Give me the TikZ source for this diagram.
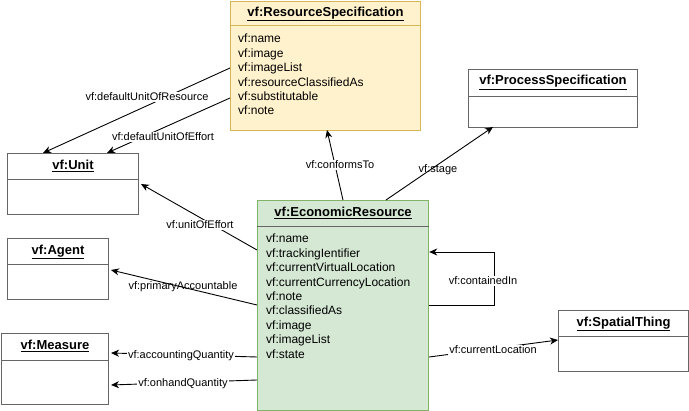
\documentclass[tikz,border=0pt]{standalone}
\usepackage{fontspec}
\setmainfont{Liberation Sans}
\usetikzlibrary{arrows.meta,calc}
\definecolor{rsfill}{HTML}{FFF2CC}
\definecolor{rsline}{HTML}{D6B656}
\definecolor{erfill}{HTML}{D5E8D4}
\definecolor{erline}{HTML}{82B366}
\definecolor{boxline}{HTML}{666666}
\begin{document}
\begin{tikzpicture}[x=1pt,y=-1pt,
  box/.style={draw=boxline, line width=1pt, fill=white, anchor=north west, inner sep=0pt},
  ttl/.style={font=\fontsize{13}{15}\selectfont\bfseries, anchor=base, inner sep=0pt},
  attr/.style={font=\fontsize{12}{14.4}\selectfont, anchor=base west, inner sep=0pt},
  lab/.style={font=\fontsize{11}{13}\selectfont, fill=white, inner sep=1pt},
  labnf/.style={font=\fontsize{11}{13}\selectfont, inner sep=1pt},
  con/.style={draw=black, line width=0.9pt, -{Stealth[length=8pt,width=7pt,inset=2.5pt]}},
]
\useasboundingbox (0,0) rectangle (689,411);

% ResourceSpecification
\node[box, fill=rsfill, draw=rsline, minimum width=190pt, minimum height=129pt] (rs) at (230,1) {};
\draw[draw=rsline, line width=1pt] ($(rs.north west)+(0,25)$) -- ($(rs.north east)+(0,25)$);
\node[ttl] at ($(rs.north)+(0,15.5)$) {\underline{vf:ResourceSpecification}};
\foreach \t [count=\i from 0] in {vf:name,vf:image,vf:imageList,vf:resourceClassifiedAs,vf:substitutable,vf:note}
  \node[attr] at ($(rs.north west)+(8,{42+14.4*\i})$) {\t};

% EconomicResource
\node[box, fill=erfill, draw=erline, line width=1.2pt, minimum width=171pt, minimum height=210pt] (er) at (257,200) {};
\draw[draw=boxline, line width=1pt] ($(er.north west)+(0,27)$) -- ($(er.north east)+(0,27)$);
\node[ttl] at ($(er.north)+(0,16.5)$) {\underline{vf:EconomicResource}};
\foreach \t [count=\i from 0] in {vf:name,vf:trackingIentifier,vf:currentVirtualLocation,vf:currentCurrencyLocation,vf:note,vf:classifiedAs,vf:image,vf:imageList,vf:state}
  \node[attr] at ($(er.north west)+(9,{43+14.4*\i})$) {\t};

% Unit
\node[box, minimum width=131pt, minimum height=61pt] (unit) at (7,153) {};
\draw[draw=boxline, line width=1pt] ($(unit.north west)+(0,27)$) -- ($(unit.north east)+(0,27)$);
\node[ttl] at ($(unit.north)+(0,16.5)$) {\underline{vf:Unit}};

% Agent
\node[box, minimum width=101pt, minimum height=61pt] (agent) at (7,238) {};
\draw[draw=boxline, line width=1pt] ($(agent.north west)+(0,27)$) -- ($(agent.north east)+(0,27)$);
\node[ttl] at ($(agent.north)+(0,16.5)$) {\underline{vf:Agent}};

% Measure
\node[box, minimum width=107pt, minimum height=71pt] (measure) at (1,333) {};
\draw[draw=boxline, line width=1pt] ($(measure.north west)+(0,28)$) -- ($(measure.north east)+(0,28)$);
\node[ttl] at ($(measure.north)+(0,16.5)$) {\underline{vf:Measure}};

% ProcessSpecification
\node[box, minimum width=169pt, minimum height=58pt] (ps) at (468,69) {};
\draw[draw=boxline, line width=1pt] ($(ps.north west)+(0,28)$) -- ($(ps.north east)+(0,28)$);
\node[ttl] at ($(ps.north)+(0,16)$) {\underline{vf:ProcessSpecification}};

% SpatialThing
\node[box, minimum width=130pt, minimum height=61pt] (st) at (558,310) {};
\draw[draw=boxline, line width=1pt] ($(st.north west)+(0,27)$) -- ($(st.north east)+(0,27)$);
\node[ttl] at ($(st.north)+(0,16.5)$) {\underline{vf:SpatialThing}};

% Connectors
\draw[con] ($(rs.north west)+(0,67)$) -- ($(unit.north west)+(36,0)$)
  node[lab] at (147,97) {vf:defaultUnitOfResource};
\draw[con] ($(rs.north west)+(0,97)$) -- ($(unit.north west)+(100,0)$)
  node[lab] at (163,137) {vf:defaultUnitOfEffort};
\draw[con] ($(er.north west)+(86,0)$) -- ($(rs.north west)+(97,129)$)
  node[lab] at (340,165) {vf:conformsTo};
\draw[con] ($(er.north west)+(129,0)$) -- ($(ps.north west)+(25,58)$)
  node[labnf] at (438,170) {vf:stage};
\draw[con] ($(er.north west)+(0,50)$) -- ($(unit.north east)+(2,31)$)
  node[lab] at (200,225) {vf:unitOfEffort};
\draw[con] ($(er.north west)+(0,105)$) -- ($(agent.north east)+(2,32)$)
  node[labnf] at (183,287) {vf:primaryAccountable};
\draw[con] ($(er.north west)+(0,157)$) -- ($(measure.north east)+(2,20)$)
  node[lab] at (181,356) {vf:accountingQuantity};
\draw[con] ($(er.north west)+(0,180)$) -- ($(measure.north east)+(2,52)$)
  node[lab] at (183,384) {vf:onhandQuantity};
\draw[con] ($(er.north east)+(0,105)$) -- ++(65,0) -- ++(0,-53) -- ($(er.north east)+(0,52)$);
\node[lab] (cin) at (483,281) {vf:containedIn};
\draw[con] ($(er.north east)+(0,157)$) -- ($(st.north west)+(0,30)$)
  node[lab] at (493,350) {vf:currentLocation};
\end{tikzpicture}
\end{document}
